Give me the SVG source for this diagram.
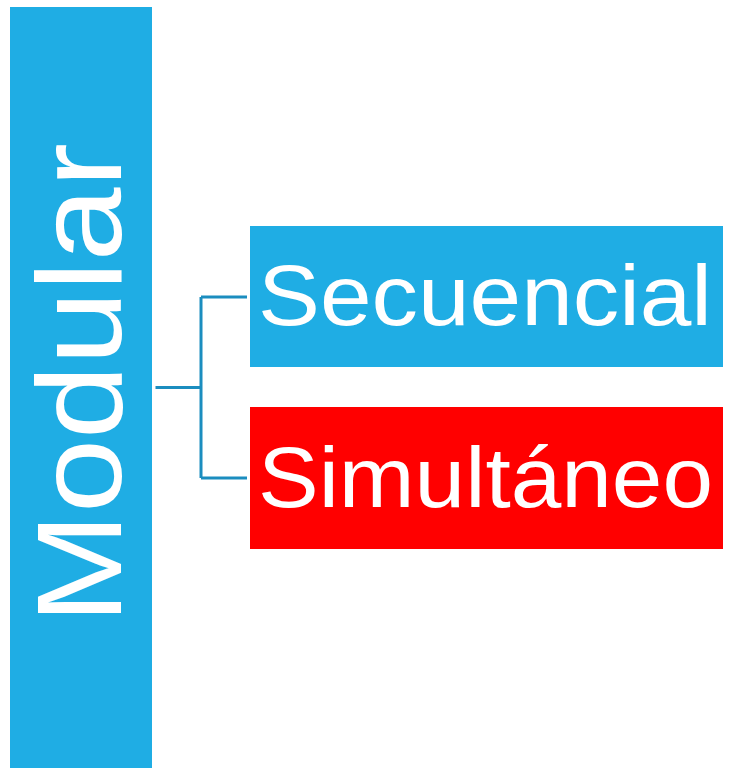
<svg xmlns="http://www.w3.org/2000/svg" width="730" height="768" viewBox="0 0 730 768">
<style>
.lbl{font-family:"Liberation Sans",Arial,sans-serif;fill:#ffffff;}
.conn{fill:none;stroke:#1b8dbf;stroke-width:3;}
</style>
<rect width="730" height="768" fill="#ffffff"/>
<g id="modular">
<rect x="10" y="7" width="142" height="761" fill="#1fade4"/>
<text class="lbl" transform="translate(121,624) rotate(-90)" font-size="120" textLength="481" lengthAdjust="spacingAndGlyphs">Modular</text>
</g>
<g id="connectors">
<path class="conn" d="M155.5 387.5 H201 M201 297 V478 M201 297 H247 M201 478 H247"/>
</g>
<g id="secuencial">
<rect x="250" y="226" width="473" height="141" fill="#1fade4"/>
<text class="lbl" x="258" y="325" font-size="86" textLength="454" lengthAdjust="spacingAndGlyphs">Secuencial</text>
</g>
<g id="simultaneo">
<rect x="250" y="407" width="473" height="142" fill="#ff0000"/>
<text class="lbl" x="258" y="507" font-size="86" textLength="455" lengthAdjust="spacingAndGlyphs">Simultáneo</text>
</g>
</svg>
